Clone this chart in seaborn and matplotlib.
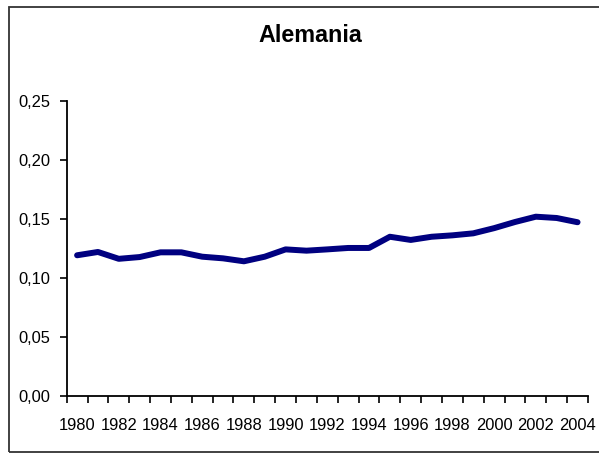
import matplotlib
matplotlib.use("Agg")
import matplotlib.pyplot as plt
import seaborn as sns
import pandas as pd
from matplotlib.patches import Rectangle
from matplotlib.ticker import FuncFormatter, FixedLocator

years = list(range(1980, 2005))
values = [0.119, 0.1218, 0.116, 0.1175, 0.1215, 0.1215, 0.1178, 0.1164, 0.1139,
          0.1178, 0.124, 0.1229, 0.124, 0.1252, 0.1252, 0.1347, 0.132, 0.1347,
          0.1359, 0.1376, 0.142, 0.1472, 0.1517, 0.1506, 0.147]
title = "Alemania"
yticks = [0.0, 0.05, 0.10, 0.15, 0.20, 0.25]

sns.set_theme(style="white")
plt.rcParams['font.family'] = ['Liberation Sans', 'DejaVu Sans']

df = pd.DataFrame({"year": years, "value": values})

fig = plt.figure(figsize=(5.99, 4.53), dpi=100)
ax = fig.add_axes([0.1113, 0.1265, 0.9816 - 0.1113, 0.7777 - 0.1265])

sns.lineplot(data=df, x="year", y="value", ax=ax, color="#000080",
             linewidth=4.3, solid_capstyle="round", solid_joinstyle="round")

ax.set_xlim(years[0] - 0.5, years[-1] + 0.5)
ax.set_ylim(0, 0.25)
ax.set_yticks(yticks)
ax.yaxis.set_major_formatter(FuncFormatter(lambda v, p: f"{v:.2f}".replace(".", ",")))

# category boundaries as major ticks (no labels), labels at even years as minor ticks
ax.xaxis.set_major_locator(FixedLocator([y - 0.5 for y in years] + [years[-1] + 0.5]))
ax.xaxis.set_major_formatter(FuncFormatter(lambda v, p: ""))
ax.xaxis.set_minor_locator(FixedLocator([y for y in years if y % 2 == 0]))
ax.xaxis.set_minor_formatter(FuncFormatter(lambda v, p: f"{int(round(v))}"))

ax.tick_params(axis="x", which="major", direction="out", length=5, width=1.2,
               color="black", bottom=True)
ax.tick_params(axis="x", which="minor", length=0, pad=16, labelsize=11.9,
               labelcolor="black", bottom=True)
ax.tick_params(axis="y", which="major", direction="out", length=5, width=1.2,
               color="black", left=True, labelsize=11.9, labelcolor="black", pad=7)

ax.set_xlabel("")
ax.set_ylabel("")
ax.grid(False)
for s in ["top", "right"]:
    ax.spines[s].set_visible(False)
for s in ["left", "bottom"]:
    ax.spines[s].set_color("black")
    ax.spines[s].set_linewidth(1.3)

fig.text(310 / 599, 1 - 35 / 453, title, ha="center", va="center",
         fontsize=16.8, fontweight="bold", color="black")

fig.patches.append(Rectangle((8.5 / 599, 1.5 / 453), (605 - 8.5) / 599, (446.5 - 1.5) / 453,
                             transform=fig.transFigure, fill=False,
                             edgecolor="#333333", linewidth=1.3))

fig.savefig("out.png", dpi=100)
